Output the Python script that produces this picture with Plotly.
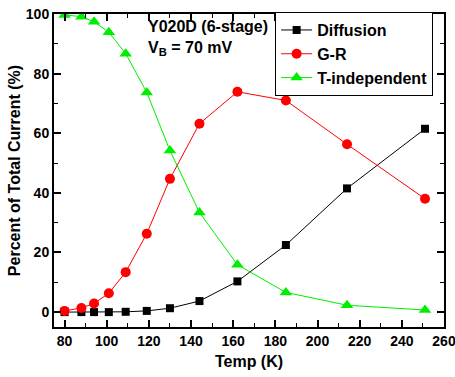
import plotly.graph_objects as go

# Temperature points (K)
temp = [80, 88, 94, 101, 109, 119, 130, 144, 162, 185, 214, 251]

# Fraction of total current for each mechanism (%)
diffusion = [0.0, 0.0, 0.0, 0.0, 0.1, 0.4, 1.3, 3.7, 10.3, 22.5, 41.5, 61.5]
g_r = [0.4, 1.4, 2.9, 6.3, 13.4, 26.3, 44.7, 63.2, 73.9, 71.0, 56.3, 38.0]
t_indep = [99.7, 99.1, 97.4, 93.9, 86.7, 73.7, 54.2, 33.4, 15.9, 6.6, 2.3, 0.7]

x_ticks = [80, 100, 120, 140, 160, 180, 200, 220, 240, 260]
y_ticks = [0, 20, 40, 60, 80, 100]

FONT = "Arial, Liberation Sans, sans-serif"

fig = go.Figure()
fig.add_trace(go.Scatter(
    x=temp, y=diffusion, name="Diffusion", mode="lines+markers",
    line=dict(color="black", width=1),
    marker=dict(symbol="square", size=8, color="black"),
))
fig.add_trace(go.Scatter(
    x=temp, y=g_r, name="G-R", mode="lines+markers",
    line=dict(color="#ff0000", width=1),
    marker=dict(symbol="circle", size=10, color="#ff0000"),
))
fig.add_trace(go.Scatter(
    x=temp, y=t_indep, name="T-independent", mode="lines+markers",
    line=dict(color="#00ee00", width=1),
    marker=dict(symbol="triangle-up", size=11, color="#00ee00"),
))

axis_common = dict(
    showline=True, linecolor="black", linewidth=2, mirror="allticks",
    ticks="inside", ticklen=7, tickwidth=1.5, tickcolor="black",
    showgrid=False, zeroline=False, automargin=False,
    ticklabeloverflow="allow",
    tickfont=dict(family=FONT, size=14, color="black", weight="bold"),
)

fig.update_xaxes(
    range=[75, 260], tickvals=x_ticks,
    minor=dict(ticks="inside", ticklen=4, dtick=10, tick0=0, tickcolor="black", tickwidth=1),
    title=dict(text="<b>Temp (K)</b>", font=dict(family=FONT, size=16, color="black"), standoff=8),
    **axis_common,
)
fig.update_yaxes(
    range=[-5, 100], tickvals=y_ticks,
    minor=dict(ticks="inside", ticklen=4, dtick=10, tick0=0, tickcolor="black", tickwidth=1),
    title=dict(text="<b>Percent of Total Current (%)</b>", font=dict(family=FONT, size=16, color="black"), standoff=1),
    **axis_common,
)

fig.add_annotation(
    x=0.236, y=0.995, xref="paper", yref="paper", xanchor="left", yanchor="top",
    text="<b>Y020D (6-stage)<br>V<sub>B</sub> = 70 mV</b>", showarrow=False, align="left",
    font=dict(family=FONT, size=16, color="black"),
)

fig.update_layout(
    width=455, height=377,
    margin=dict(l=54, r=11, t=14, b=50, autoexpand=False),
    paper_bgcolor="white", plot_bgcolor="white",
    showlegend=True,
    legend=dict(
        x=0.567, y=0.872, xanchor="left", yanchor="middle",
        bordercolor="black", borderwidth=1, bgcolor="white",
        font=dict(family=FONT, size=16, color="black", weight="bold"),
        tracegroupgap=0, itemwidth=31,
    ),
)

fig.write_html("out.html")
